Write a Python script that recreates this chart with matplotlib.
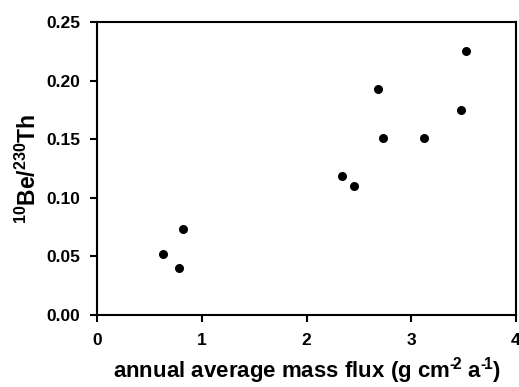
import matplotlib
matplotlib.use("Agg")
import matplotlib.pyplot as plt

flux = [0.633, 0.780, 0.821, 2.336, 2.456, 2.680, 2.733, 3.118, 3.475, 3.520]
ratio = [0.0523, 0.0398, 0.0731, 0.1189, 0.1098, 0.1926, 0.1507, 0.1513, 0.1750, 0.2255]
xticks = [0, 1, 2, 3, 4]
yticks = [0.00, 0.05, 0.10, 0.15, 0.20, 0.25]

plt.rcParams['font.family'] = ['Liberation Sans', 'DejaVu Sans']
plt.rcParams['mathtext.fontset'] = 'custom'
plt.rcParams['mathtext.rm'] = 'Liberation Sans:bold'
plt.rcParams['mathtext.bf'] = 'Liberation Sans:bold'
plt.rcParams['mathtext.it'] = 'Liberation Sans:bold'
plt.rcParams['mathtext.default'] = 'bf'

fig = plt.figure(figsize=(5.19, 3.87), dpi=100)
ax = fig.add_axes([97/519, 1-315/387, (516-97)/519, (315-22)/387])
ax.scatter(flux, ratio, s=30, color='black', zorder=3)
ax.set_xlim(0, 4)
ax.set_ylim(0, 0.25)
ax.set_xticks(xticks)
ax.set_xticklabels([str(t) for t in xticks], fontsize=12.5, fontweight='bold')
ax.set_yticks(yticks)
ax.set_yticklabels([f"{t:.2f}" for t in yticks], fontsize=12.5, fontweight='bold')
ax.tick_params(direction='out', length=5, width=1.5, pad=7)
ax.tick_params(axis='x', pad=8)
for s in ax.spines.values():
    s.set_linewidth(1.5)
ax.set_xlabel("annual average mass flux (g cm$^{\u2010\\!2}$ a$^{\u2010\\!1}$)", fontsize=16, fontweight='bold', labelpad=5)
ax.set_ylabel(r"$^{10}$Be/$^{230}$Th", fontsize=16.5, fontweight='bold', labelpad=4)
fig.savefig("out.png", dpi=100)
